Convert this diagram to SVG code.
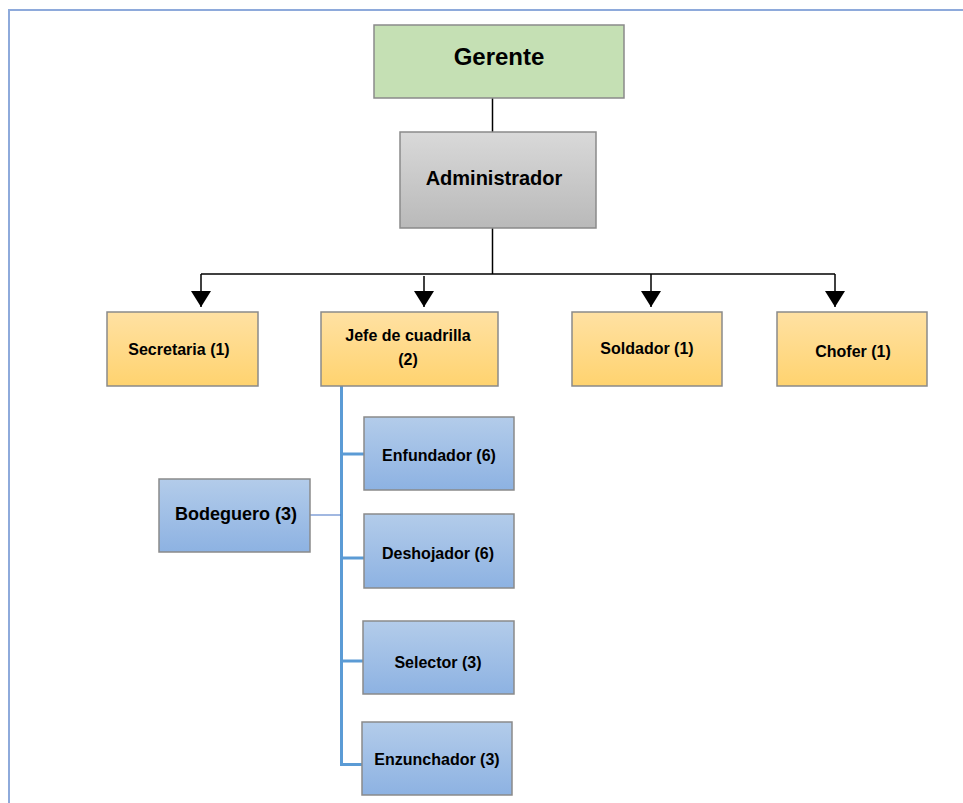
<svg xmlns="http://www.w3.org/2000/svg" width="963" height="803" viewBox="0 0 963 803">
<defs>
<linearGradient id="gOrange" x1="0" y1="0" x2="0" y2="1"><stop offset="0" stop-color="#FFE1A3"/><stop offset="1" stop-color="#FFD36F"/></linearGradient>
<linearGradient id="gBlue" x1="0" y1="0" x2="0" y2="1"><stop offset="0" stop-color="#B3CCEA"/><stop offset="1" stop-color="#8DB2E2"/></linearGradient>
<linearGradient id="gGrey" x1="0" y1="0" x2="0" y2="1"><stop offset="0" stop-color="#D9D9D9"/><stop offset="1" stop-color="#B9B9B9"/></linearGradient>
<marker id="arr" markerWidth="16" markerHeight="20" refX="16" refY="10" orient="auto" markerUnits="userSpaceOnUse" viewBox="0 0 16 20">
<path d="M0,0 L16,10 L0,20 Z" fill="#000"/>
</marker>
<style>
.box{stroke:#8A8A8A;stroke-width:1.5}
.t{font-family:"Liberation Sans",Arial,sans-serif;font-weight:bold;fill:#000;text-anchor:middle}
.s{font-size:16px}
.blk{stroke:#000;stroke-width:1.5;fill:none}
.blu{stroke:#5B9BD5;stroke-width:3;fill:none}
</style>
</defs>
<rect x="0" y="0" width="963" height="803" fill="#fff"/>
<path d="M9,803 L9,10 L963,10" fill="none" stroke="#8EAADB" stroke-width="2"/>
<g id="connectors">
<line class="blk" x1="492.5" y1="98" x2="492.5" y2="132"/>
<line class="blk" x1="492.5" y1="228" x2="492.5" y2="274"/>
<polyline class="blk" points="201,274 835,274"/>
<line class="blk" x1="201" y1="274" x2="201" y2="307" marker-end="url(#arr)"/>
<line class="blk" x1="424" y1="276" x2="424" y2="307" marker-end="url(#arr)"/>
<line class="blk" x1="651" y1="274" x2="651" y2="307" marker-end="url(#arr)"/>
<line class="blk" x1="835" y1="274" x2="835" y2="307" marker-end="url(#arr)"/>
<line class="blu" x1="341.5" y1="386" x2="341.5" y2="766"/>
<line class="blu" x1="341.5" y1="454" x2="364" y2="454"/>
<line class="blu" x1="341.5" y1="558" x2="364" y2="558"/>
<line class="blu" x1="341.5" y1="661" x2="363" y2="661"/>
<line class="blu" x1="341.5" y1="764.5" x2="362" y2="764.5"/>
<line x1="305" y1="515" x2="341" y2="515" stroke="#4472C4" stroke-width="1.2"/>
</g>
<g id="gerente">
<rect class="box" x="374" y="25" width="250" height="73" fill="#C5E0B4"/>
<text class="t" x="499" y="65" font-size="24">Gerente</text>
</g>
<g id="administrador">
<rect class="box" x="400" y="132" width="196" height="96" fill="url(#gGrey)"/>
<text class="t" x="494" y="185" font-size="20">Administrador</text>
</g>
<g id="secretaria">
<rect class="box" x="107" y="312" width="151" height="74" fill="url(#gOrange)"/>
<text class="t s" x="179" y="355">Secretaria (1)</text>
</g>
<g id="jefe">
<rect class="box" x="321" y="312" width="177" height="74" fill="url(#gOrange)"/>
<text class="t s" x="408" y="341">Jefe de cuadrilla</text>
<text class="t s" x="408" y="365">(2)</text>
</g>
<g id="soldador">
<rect class="box" x="572" y="312" width="150" height="74" fill="url(#gOrange)"/>
<text class="t s" x="647" y="354">Soldador (1)</text>
</g>
<g id="chofer">
<rect class="box" x="777" y="312" width="150" height="74" fill="url(#gOrange)"/>
<text class="t s" x="853" y="357">Chofer (1)</text>
</g>
<g id="enfundador">
<rect class="box" x="364" y="417" width="150" height="73" fill="url(#gBlue)"/>
<text class="t s" x="439" y="461">Enfundador (6)</text>
</g>
<g id="bodeguero">
<rect class="box" x="159" y="479" width="151" height="73" fill="url(#gBlue)"/>
<text class="t" x="236" y="520" font-size="18">Bodeguero (3)</text>
</g>
<g id="deshojador">
<rect class="box" x="364" y="514" width="150" height="74" fill="url(#gBlue)"/>
<text class="t s" x="438" y="559">Deshojador (6)</text>
</g>
<g id="selector">
<rect class="box" x="363" y="621" width="151" height="73" fill="url(#gBlue)"/>
<text class="t s" x="438" y="668">Selector (3)</text>
</g>
<g id="enzunchador">
<rect class="box" x="362" y="722" width="150" height="73" fill="url(#gBlue)"/>
<text class="t s" x="437" y="765">Enzunchador (3)</text>
</g>
</svg>
